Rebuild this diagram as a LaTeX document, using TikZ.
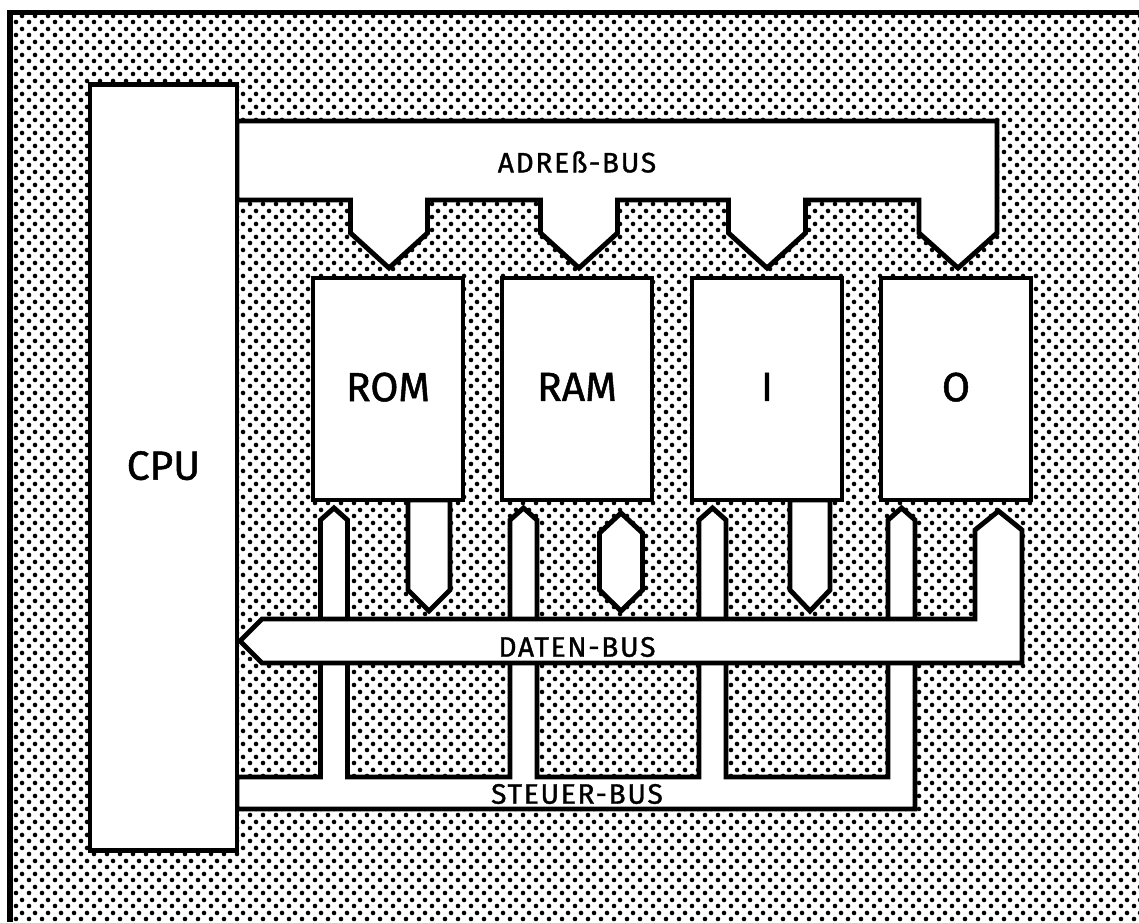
\documentclass[tikz,border=0pt]{standalone}
\usepackage{fontspec}
\newfontfamily\plotfont[BoldFont={Fira Sans},BoldFeatures={FakeBold=1.2}]{Fira Sans}
\newfontfamily\plotfontwide[LetterSpace=6,BoldFont={Fira Sans},
  BoldFeatures={FakeBold=1.2,LetterSpace=6}]{Fira Sans}
\usetikzlibrary{patterns}
% raster of the background
\pgfdeclarepatternformonly{rasterdots}{\pgfpointorigin}{\pgfpoint{8.9pt}{8.9pt}}%
  {\pgfpoint{8.9pt}{8.9pt}}{%
  \pgfpathcircle{\pgfpoint{2.22pt}{2.22pt}}{1.7pt}%
  \pgfpathcircle{\pgfpoint{6.67pt}{6.67pt}}{1.7pt}%
  \pgfusepath{fill}}
\tikzset{
  busshape/.style={fill=white,draw=black,line width=3.5pt},
  unitbox/.style={busshape,rectangle,inner sep=0pt,text depth=0.3em,
    font=\plotfont\bfseries\fontsize{29}{31}\selectfont},
  buslabel/.style={font=\plotfontwide\bfseries\fontsize{20}{22}\selectfont,inner sep=0pt},
}

\begin{document}
\begin{tikzpicture}[x=0.025cm,y=-0.025cm]
\useasboundingbox (0,0) rectangle (1139,922);
\fill[pattern=rasterdots] (10,12.5) rectangle (1139,922);
\draw[line width=4pt] (1139,12.5) -- (10,12.5) -- (10,922);
% steuer-bus
\draw[busshape] (237,777)
 \foreach \c in {334,523.5,712.5} {
  -- (\c-13.5,777) -- (\c-13.5,520) -- (\c,508) -- (\c+13.5,520) -- (\c+13.5,777) }
 -- (888,777) -- (888,520) -- (901.5,508) -- (915,520) -- (915,809)
 -- (237,809) -- cycle;
% daten-bus
\draw[busshape] (262,619) -- (975,619) -- (975,530) -- (998.5,511)
 -- (1022,530) -- (1022,663) -- (262,663) -- (240,641) -- cycle;
% adress-bus
\draw[busshape] (237,121) -- (997,121) -- (997,233) -- (958,268) -- (919,233) -- (919,200)
 \foreach \c in {767,579,389} {
  -- (\c+38.5,200) -- (\c+38.5,233) -- (\c,268) -- (\c-38.5,233) -- (\c-38.5,200) }
 -- (237,200) -- cycle;
% data lines of the units
\draw[busshape] (408,500) -- (408,590) -- (429,611) -- (450,590) -- (450,500) -- cycle;
\draw[busshape] (621,513) -- (642.5,533) -- (642.5,590) -- (621,611)
 -- (599.5,590) -- (599.5,533) -- cycle;
\draw[busshape] (790,500) -- (790,590) -- (810,611) -- (830,590) -- (830,500) -- cycle;
% units
\node[unitbox,minimum width=3.675cm,minimum height=19.125cm] (cpu) at (163.5,467.5) {CPU};
\node[unitbox,minimum width=3.75cm,minimum height=5.55cm] (rom) at (388,389) {ROM};
\node[unitbox,minimum width=3.75cm,minimum height=5.55cm] (ram) at (577,389) {RAM};
\node[unitbox,minimum width=3.75cm,minimum height=5.55cm] (inp) at (767,389) {I};
\node[unitbox,minimum width=3.75cm,minimum height=5.55cm] (out) at (956,389) {O};
% labels
\node[buslabel] (adrlabel) at (577,162) {ADREß-BUS};
\node[buslabel] (datlabel) at (577,647) {DATEN-BUS};
\node[buslabel] (stlabel) at (577,794) {STEUER-BUS};
\end{tikzpicture}
\end{document}
